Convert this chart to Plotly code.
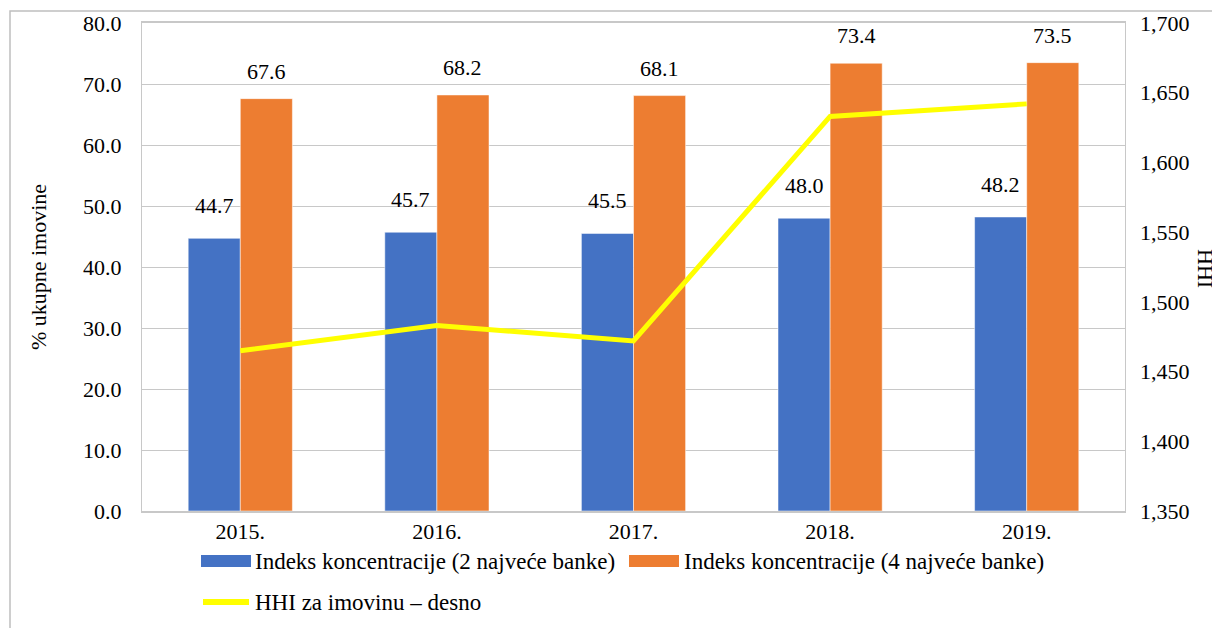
import plotly.graph_objects as go

years = ["2015.", "2016.", "2017.", "2018.", "2019."]
top2 = [44.7, 45.7, 45.5, 48.0, 48.2]
top4 = [67.6, 68.2, 68.1, 73.4, 73.5]
hhi = [1465, 1483, 1472, 1633, 1642]

name2 = "Indeks koncentracije (2 najveće banke)"
name4 = "Indeks koncentracije (4 najveće banke)"
name_hhi = "HHI za imovinu – desno"

FONT = "Liberation Serif, Times New Roman, serif"
FS = 22
BLUE = "#4472C4"
ORANGE = "#ED7D31"
YELLOW = "#FFFF00"
GRID = "#C8C8C8"

# the page body adds an 8px offset; the figure is sized so it fits the 1220x628 window
OFF = 8
W, H = 1220 - OFF, 628 - OFF
ML, MR, MT, MB = 142 - OFF, 95, 23 - OFF, 117
PW, PH = W - ML - MR, H - MT - MB


def px(x):  # window pixel -> paper
    return (x - OFF - ML) / PW


def py(y):  # window pixel -> paper
    return (H - MB - (y - OFF)) / PH


fig = go.Figure()
fig.add_trace(go.Bar(x=years, y=top2, name=name2, marker=dict(color=BLUE, line=dict(color="rgba(255,255,255,0.5)", width=1)),
                     showlegend=False, hoverinfo="y"))
fig.add_trace(go.Bar(x=years, y=top4, name=name4, marker=dict(color=ORANGE, line=dict(color="rgba(255,255,255,0.5)", width=1)),
                     showlegend=False, hoverinfo="y"))
fig.add_trace(go.Scatter(x=years, y=hhi, name=name_hhi, mode="lines", yaxis="y2",
                         line=dict(color=YELLOW, width=5), showlegend=False))

annotations = []
for i, v in enumerate(top2):
    annotations.append(dict(x=i, y=v, xref="x", yref="y", text=f"{v:.1f}", showarrow=False,
                            xshift=-26, yshift=18, yanchor="bottom",
                            font=dict(family=FONT, size=FS, color="black")))
for i, v in enumerate(top4):
    annotations.append(dict(x=i, y=v, xref="x", yref="y", text=f"{v:.1f}", showarrow=False,
                            xshift=26, yshift=13, yanchor="bottom",
                            font=dict(family=FONT, size=FS, color="black")))

# manual legend
leg = [
    (254, 561, name2),
    (683, 561, name4),
    (254, 603, name_hhi),
]
for x, y, t in leg:
    annotations.append(dict(x=px(x), y=py(y), xref="paper", yref="paper", text=t, showarrow=False,
                            xanchor="left", yanchor="middle", borderpad=0,
                            font=dict(family=FONT, size=23, color="black")))

# right axis title
annotations.append(dict(x=px(1206), y=py(268), xref="paper", yref="paper", text="HHI", showarrow=False,
                        textangle=90, xanchor="center", yanchor="middle", borderpad=0,
                        font=dict(family=FONT, size=FS, color="black")))

shapes = [
    dict(type="rect", xref="paper", yref="paper", x0=px(10), x1=px(1240), y0=py(11), y1=py(650),
         line=dict(color="#BFBFBF", width=1.5), fillcolor="rgba(0,0,0,0)", layer="below"),
    dict(type="rect", xref="paper", yref="paper", x0=px(201), x1=px(251), y0=py(555), y1=py(567),
         line=dict(width=0), fillcolor=BLUE),
    dict(type="rect", xref="paper", yref="paper", x0=px(629), x1=px(679), y0=py(555), y1=py(567),
         line=dict(width=0), fillcolor=ORANGE),
    dict(type="line", xref="paper", yref="paper", x0=px(203), x1=px(249), y0=py(602), y1=py(602),
         line=dict(color=YELLOW, width=6)),
]

fig.update_layout(
    width=W, height=H,
    margin=dict(l=ML, r=MR, t=MT, b=MB),
    paper_bgcolor="white", plot_bgcolor="white",
    font=dict(family=FONT, size=FS, color="black"),
    barmode="group", bargap=0.47, bargroupgap=0,
    showlegend=False,
    xaxis=dict(type="category", range=[-0.5, len(years) - 0.5], showline=True, linecolor=GRID,
               linewidth=1.5, mirror=True, ticks="", automargin=False,
               tickfont=dict(family=FONT, size=FS, color="black")),
    yaxis=dict(range=[0, 80], dtick=10, tickformat=".1f", showgrid=True, gridcolor=GRID, gridwidth=1.2,
               showline=True, linecolor=GRID, linewidth=1.2, mirror=True, zeroline=False,
               ticklabelstandoff=15, automargin=False,
               title=dict(text="% ukupne imovine", standoff=30, font=dict(family=FONT, size=FS, color="black")),
               tickfont=dict(family=FONT, size=FS, color="black")),
    yaxis2=dict(range=[1350, 1700], dtick=50, tickformat=",", overlaying="y", side="right",
                showgrid=False, zeroline=False, showline=False, ticklabelstandoff=14, automargin=False,
                tickfont=dict(family=FONT, size=FS, color="black")),
    annotations=annotations,
    shapes=shapes,
)

fig.write_html("out.html")
